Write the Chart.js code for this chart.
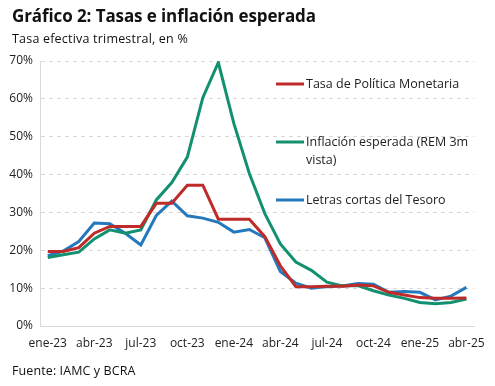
<!DOCTYPE html>
<html>
<head>
<meta charset="utf-8">
<script src="https://cdn.jsdelivr.net/npm/chart.js@4"></script>
<style>
  body { margin: 0; background: #fff; font-family: "Open Sans", sans-serif; color: #111; }
  #wrap { position: relative; width: 495px; height: 386px; }
  #title { position: absolute; left: 12px; top: 4px; font-size: 17px; font-weight: 700; letter-spacing: -0.1px; }
  #subtitle { position: absolute; left: 12px; top: 30px; font-size: 12.5px; letter-spacing: 0.2px; }
  #source { position: absolute; left: 12px; top: 362px; font-size: 12.5px; letter-spacing: 0.1px; }
  canvas { position: absolute; left: 0; top: 0; }
</style>
</head>
<body>
<div id="wrap">
  <canvas id="chart" width="495" height="386"></canvas>
  <div id="title">Gráfico 2: Tasas e inflación esperada</div>
  <div id="subtitle">Tasa efectiva trimestral, en %</div>
  <div id="source">Fuente: IAMC y BCRA</div>
</div>
<script>
const months = [
    'ene-23', 'feb-23', 'mar-23', 'abr-23', 'may-23', 'jun-23', 'jul-23', 'ago-23', 'sep-23', 'oct-23', 'nov-23', 'dic-23',
    'ene-24', 'feb-24', 'mar-24', 'abr-24', 'may-24', 'jun-24', 'jul-24', 'ago-24', 'sep-24', 'oct-24', 'nov-24', 'dic-24',
    'ene-25', 'feb-25', 'mar-25', 'abr-25'
];
const tasaPolitica = [19.7, 19.7, 20.7, 24.5, 26.3, 26.3, 26.3, 32.4, 32.4, 37.2, 37.2, 28.2,
    28.2, 28.2, 23.6, 15.9, 10.4, 10.4, 10.5, 10.5, 10.8, 10.6, 8.9, 8.2,
    7.5, 7.3, 7.3, 7.4];
const inflacionEsperada = [18.1, 18.8, 19.5, 23.0, 25.4, 24.5, 25.4, 33.3, 37.9, 44.6, 60.3, 69.6,
    53.5, 40.3, 29.7, 21.7, 16.9, 14.7, 11.6, 10.6, 10.7, 9.3, 8.2, 7.3,
    6.2, 5.9, 6.2, 7.1];
const letrasTesoro = [18.6, 19.8, 22.3, 27.2, 27.0, 24.5, 21.4, 29.2, 33.0, 29.1, 28.5, 27.4,
    24.8, 25.5, 23.3, 14.4, 11.3, 10.0, 10.4, 10.6, 11.2, 11.0, 8.9, 9.1,
    8.9, 6.9, 7.9, 10.2];
const yTicks = [0, 10, 20, 30, 40, 50, 60, 70];

// legend drawn inside the plot, right side (second item wraps on two lines)
const legendSpots = [
    { y: 84, lines: ['Tasa de Política Monetaria'] },
    { y: 142, lines: ['Inflación esperada (REM 3m', 'vista)'] },
    { y: 200, lines: ['Letras cortas del Tesoro'] }
];

const insideLegend = {
    id: 'insideLegend',
    afterDatasetsDraw(chart) {
        const ctx = chart.ctx;
        ctx.save();
        ctx.font = '12.5px "Open Sans", sans-serif';
        ctx.fillStyle = '#222';
        ctx.textBaseline = 'middle';
        chart.data.datasets.forEach((ds, i) => {
            const spot = legendSpots[i];
            ctx.strokeStyle = ds.borderColor;
            ctx.lineWidth = 3;
            ctx.beginPath();
            ctx.moveTo(276, spot.y);
            ctx.lineTo(304, spot.y);
            ctx.stroke();
            spot.lines.forEach((t, j) => ctx.fillText(t, 306, spot.y + j * 18));
        });
        ctx.restore();
    }
};

const tickFont = { family: '"Open Sans", sans-serif', size: 12 };

new Chart(document.getElementById('chart').getContext('2d'), {
    type: 'line',
    data: {
        labels: months,
        datasets: [
            { label: 'Tasa de Política Monetaria', data: tasaPolitica, borderColor: '#BE2B29' },
            { label: 'Inflación esperada (REM 3m vista)', data: inflacionEsperada, borderColor: '#12906F' },
            { label: 'Letras cortas del Tesoro', data: letrasTesoro, borderColor: '#2479BD' }
        ]
    },
    options: {
        responsive: false,
        animation: false,
        devicePixelRatio: 1,
        elements: {
            line: { borderWidth: 3, tension: 0, borderCapStyle: 'butt', borderJoinStyle: 'miter' },
            point: { radius: 0 }
        },
        layout: { padding: { top: 61, right: 17, bottom: 30, left: 0 } },
        plugins: { legend: { display: false }, tooltip: { enabled: false } },
        scales: {
            x: {
                offset: true,
                grid: { display: false, drawTicks: false },
                border: { display: true, color: '#d9d9d9', width: 1 },
                afterFit(scale) { scale.height = 30; },
                ticks: {
                    autoSkip: false,
                    maxRotation: 0,
                    padding: 10,
                    color: '#222',
                    font: tickFont,
                    callback: (v, i) => (i % 3 === 0 ? months[i] : '')
                }
            },
            y: {
                min: yTicks[0],
                max: yTicks[yTicks.length - 1],
                afterFit(scale) { scale.width = 40; },
                afterBuildTicks(scale) { scale.ticks = yTicks.map(v => ({ value: v })); },
                grid: { color: '#d9d9d9', drawTicks: false, lineWidth: 1 },
                border: { display: true, color: '#d9d9d9', dash: [4, 4] },
                ticks: {
                    padding: 7,
                    color: '#222',
                    font: tickFont,
                    callback: v => v + '%'
                }
            }
        }
    },
    plugins: [insideLegend]
});
</script>
</body>
</html>
